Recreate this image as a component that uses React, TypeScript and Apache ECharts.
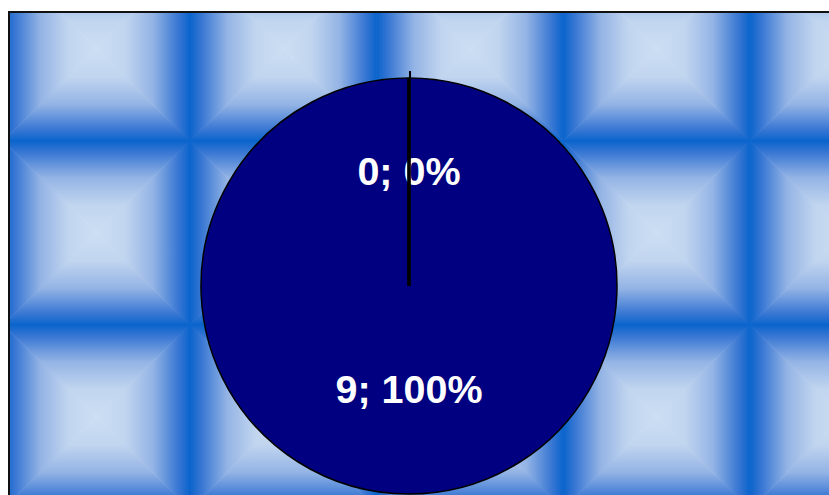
import React, { useEffect, useRef } from "react";
import * as echarts from "echarts";

const categories = ["Slice 1", "Slice 2"];
const values = [0, 9];

const W = 829;
const H = 495;
const TILE_W = 186.7;
const TILE_H = 184;
const TILE_X0 = 3.3;
const TILE_Y0 = -43;

const stops = [
  { offset: 0, color: "rgb(10,100,204)" },
  { offset: 0.12, color: "rgb(55,118,211)" },
  { offset: 0.4, color: "rgb(148,180,229)" },
  { offset: 0.7, color: "rgb(193,213,239)" },
  { offset: 1, color: "rgb(204,222,243)" },
];

function grad(x: number, y: number, x2: number, y2: number) {
  return { type: "linear", x, y, x2, y2, colorStops: stops };
}

function buildTiles() {
  const els: any[] = [];
  for (let i = 0; TILE_X0 + i * TILE_W < W; i++) {
    for (let j = 0; TILE_Y0 + j * TILE_H < H; j++) {
      const x0 = TILE_X0 + i * TILE_W;
      const y0 = TILE_Y0 + j * TILE_H;
      const x1 = x0 + TILE_W;
      const y1 = y0 + TILE_H;
      const cx = (x0 + x1) / 2;
      const cy = (y0 + y1) / 2;
      const tri = (pts: number[][], g: any) => ({
        type: "polygon",
        silent: true,
        z: 0,
        shape: { points: pts },
        style: { fill: g, stroke: g, lineWidth: 0.8 },
      });
      els.push(tri([[x0, y0], [x1, y0], [cx, cy]], grad(0, 0, 0, 1)));
      els.push(tri([[x0, y1], [x1, y1], [cx, cy]], grad(0, 1, 0, 0)));
      els.push(tri([[x0, y0], [x0, y1], [cx, cy]], grad(0, 0, 1, 0)));
      els.push(tri([[x1, y0], [x1, y1], [cx, cy]], grad(1, 0, 0, 0)));
    }
  }
  return els;
}

export default function App() {
  const ref = useRef<HTMLDivElement>(null);
  useEffect(() => {
    if (!ref.current) return;
    const chart = echarts.init(ref.current, null, { renderer: "svg" });
    const cx = 409;
    const cy = 286;
    const r = 208;
    chart.setOption({
      animation: false,
      backgroundColor: "#ffffff",
      graphic: [
        ...buildTiles(),
        { type: "rect", silent: true, z: 1, shape: { x: 0, y: 0, width: W, height: 11 }, style: { fill: "#fff" } },
        { type: "rect", silent: true, z: 1, shape: { x: 0, y: 0, width: 8, height: H }, style: { fill: "#fff" } },
        { type: "line", silent: true, z: 1, shape: { x1: 8, y1: 12, x2: W, y2: 12 }, style: { stroke: "#111", lineWidth: 2 } },
        { type: "line", silent: true, z: 1, shape: { x1: 9, y1: 11, x2: 9, y2: H }, style: { stroke: "#111", lineWidth: 2 } },
        { type: "line", silent: true, z: 100, shape: { x1: cx, y1: cy, x2: cx, y2: cy - r }, style: { stroke: "#000", lineWidth: 3.7 } },
        { type: "line", silent: true, z: 100, shape: { x1: cx + 1, y1: cy - r, x2: cx + 1, y2: cy - r - 7 }, style: { stroke: "#000", lineWidth: 2 } },
      ],
      series: [
        {
          type: "pie",
          z: 5,
          center: [cx, cy],
          radius: [0, r],
          startAngle: 90,
          clockwise: true,
          avoidLabelOverlap: false,
          stillShowZeroSum: true,
          minShowLabelAngle: 0,
          itemStyle: { color: "#000080", borderColor: "#000", borderWidth: 1.5 },
          label: {
            show: true,
            position: "inside",
            formatter: "{c}; {d}%",
            color: "#fff",
            fontFamily: "Liberation Sans, Arial, sans-serif",
            fontWeight: "bold",
            fontSize: 39.5,
          },
          labelLine: { show: false },
          emphasis: { disabled: true },
          data: categories.map((name, i) => ({
            name,
            value: values[i],
            label: { offset: i === 0 ? [0, -8] : [0, -4] },
          })),
        },
      ],
    });
    return () => chart.dispose();
  }, []);
  return (
    <div
      ref={ref}
      style={{ position: "fixed", left: 0, top: 0, width: W, height: H }}
    />
  );
}
